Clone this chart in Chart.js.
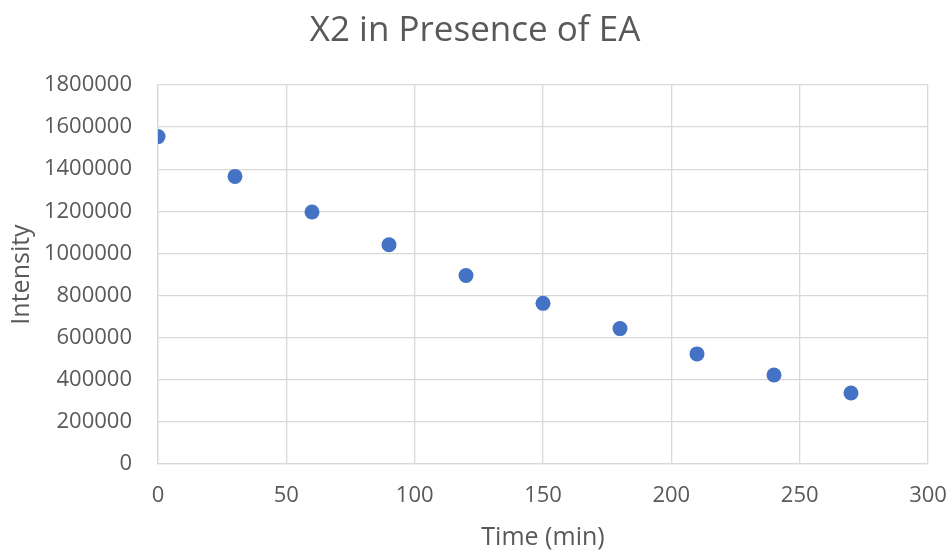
<!DOCTYPE html>
<html>
<head>
<meta charset="utf-8">
<script src="https://cdn.jsdelivr.net/npm/chart.js@4"></script>
<style>
  html, body { margin: 0; padding: 0; background: #ffffff; }
  #wrap { width: 952px; height: 553px; }
</style>
</head>
<body>
<div id="wrap"><canvas id="chart" width="952" height="553"></canvas></div>
<script>
'use strict';

// Time points (min) and measured intensity
const timeMin   = [0, 30, 60, 90, 120, 150, 180, 210, 240, 270];
const intensity = [1555000, 1366000, 1197000, 1041000, 895000, 763000, 643000, 523000, 423000, 337000];

const xTicks = [0, 50, 100, 150, 200, 250, 300];
const yTicks = [0, 200000, 400000, 600000, 800000, 1000000, 1200000, 1400000, 1600000, 1800000];

const textColor = '#595959';
const gridColor = '#d9d9d9';
const fontFamily = '"Open Sans", "Noto Sans", sans-serif';

const points = timeMin.map((t, i) => ({ x: t, y: intensity[i] }));

new Chart(document.getElementById('chart'), {
  type: 'scatter',
  data: {
    datasets: [{
      data: points,
      backgroundColor: '#4472c4',
      borderColor: '#4472c4',
      pointRadius: 7.5,
      pointBorderWidth: 0,
    }],
  },
  options: {
    responsive: false,
    animation: false,
    // left padding shifts the centred title a little to the right
    layout: { padding: { left: 22, right: 24, top: 0, bottom: 0 } },
    plugins: {
      legend: { display: false },
      tooltip: { enabled: false },
      title: {
        display: true,
        text: 'X2 in Presence of EA',
        color: textColor,
        font: { family: fontFamily, size: 35, weight: 'normal', lineHeight: 1.2 },
        padding: { top: 10, bottom: 33 },
      },
    },
    scales: {
      x: {
        type: 'linear',
        min: 0, max: 300,
        afterBuildTicks: s => { s.ticks = xTicks.map(v => ({ value: v })); },
        afterFit: s => { s.height = 89; s.paddingLeft = 0; s.paddingRight = 0; },
        grid: { color: gridColor, lineWidth: 1.3, drawTicks: false },
        border: { color: gridColor, width: 1.3 },
        ticks: { color: textColor, padding: 19, maxRotation: 0, font: { family: fontFamily, size: 22 } },
        title: {
          display: true,
          text: 'Time (min)',
          color: textColor,
          font: { family: fontFamily, size: 25, lineHeight: 1.2 },
          padding: { top: 0, bottom: 0 },
        },
      },
      y: {
        type: 'linear',
        min: 0, max: 1800000,
        afterBuildTicks: s => { s.ticks = yTicks.map(v => ({ value: v })); },
        afterFit: s => { s.width = 136; s.paddingTop = 0; s.paddingBottom = 0; },
        grid: { color: gridColor, lineWidth: 1.3, drawTicks: false },
        border: { color: gridColor, width: 1.3 },
        ticks: {
          color: textColor,
          padding: 26,
          font: { family: fontFamily, size: 22 },
          callback: v => String(v),
        },
        title: {
          display: true,
          text: 'Intensity',
          color: textColor,
          font: { family: fontFamily, size: 25, lineHeight: 1.2 },
          padding: { top: -15, bottom: 0 },
        },
      },
    },
  },
});
</script>
</body>
</html>
